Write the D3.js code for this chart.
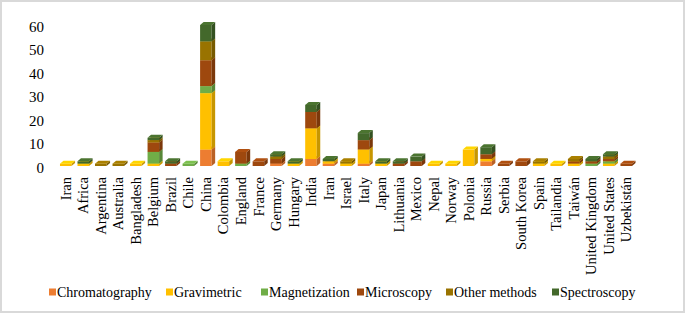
<!DOCTYPE html>
<html><head><meta charset="utf-8">
<script src="https://cdn.jsdelivr.net/npm/d3@7"></script>
<style>body{margin:0;background:#fff}svg{display:block}</style>
</head><body>
<svg id="c" width="685" height="313"></svg>
<script>
const categories = ["Iran","Africa","Argentina","Australia","Bangladesh","Belgium","Brazil","Chile","China","Colombia","England","France","Germany","Hungary","India","Iran","Israel","Italy","Japan","Lithuania","Mexico","Nepal","Norway","Polonia","Russia","Serbia","South Korea","Spain","Tailandia","Taiwán","United Kingdom","United States","Uzbekistán"];
const seriesNames = ["Chromatography","Gravimetric","Magnetization","Microscopy","Other methods","Spectroscopy"];
const seriesColors = ["#ED7D31","#FFC000","#70AD47","#9E480E","#997300","#43682B"];
const chromatography = [0,0,0,0,0,0,0,0,7,0,0,0,1,0,3,1,0,1,0,0,0,0,0,0,2,0,0,0,0,0,0,0,0];
const gravimetric    = [1,1,0,0,1,1,0,0,24,2,0,0,0,1,13,1,1,6,1,0,0,1,1,7,1,0,0,1,1,1,0,1,0];
const magnetization  = [0,0,0,0,0,5,0,1,3,0,1,0,0,0,0,0,0,0,0,0,0,0,0,0,0,0,0,0,0,0,1,1,0];
const microscopy     = [0,0,0,0,0,4,1,0,11,0,5,2,2,0,7,0,0,4,0,1,2,0,0,0,2,1,2,0,0,1,1,1,1];
const otherMethods   = [0,0,1,1,0,1,0,0,8,0,0,0,1,0,0,0,1,0,0,0,0,0,0,0,0,0,0,1,0,1,0,1,0];
const spectroscopy   = [0,1,0,0,0,1,1,0,7,0,0,0,1,1,3,1,0,3,1,1,2,0,0,0,3,0,0,0,0,0,1,1,0];
const yTicks = [0,10,20,30,40,50,60];

const seriesValues = [chromatography,gravimetric,magnetization,microscopy,otherMethods,spectroscopy];
const rows = categories.map((c,i)=>{const r={idx:i,name:c};seriesNames.forEach((s,k)=>r[s]=seriesValues[k][i]);return r;});

const svg = d3.select("#c");
svg.append("rect").attr("x",1).attr("y",1).attr("width",683).attr("height",311)
  .attr("fill","#fff").attr("stroke","#d9d9d9").attr("stroke-width",2);

const x = d3.scaleBand().domain(d3.range(categories.length)).range([57,635]).paddingInner(0.34).paddingOuter(0.17);
const y = d3.scaleLinear().domain([0,60]).range([166,25]);
const color = d3.scaleOrdinal().domain(seriesNames).range(seriesColors);

const stack = d3.stack().keys(seriesNames);
const layers = stack(rows);
const dx = 3.5, dy = 3;

const g = svg.append("g");
rows.forEach((r,i)=>{
  layers.forEach(layer=>{
    const d = layer[i];
    if (d[1]-d[0] <= 0) return;
    const c = d3.color(color(layer.key));
    const x0 = x(i), w = x.bandwidth(), yt = y(d[1]), yb = y(d[0]);
    g.append("rect").attr("x",x0).attr("y",yt).attr("width",w).attr("height",yb-yt).attr("fill",c.formatHex());
    g.append("path").attr("d",`M${x0+w},${yt}L${x0+w+dx},${yt-dy}L${x0+w+dx},${yb-dy}L${x0+w},${yb}Z`)
      .attr("fill",c.darker(0.7).formatHex());
    g.append("path").attr("d",`M${x0},${yt}L${x0+dx},${yt-dy}L${x0+w+dx},${yt-dy}L${x0+w},${yt}Z`)
      .attr("fill",c.brighter(0.3).formatHex());
  });
});

const yAxis = d3.axisLeft(y).tickValues(yTicks).tickSize(0).tickPadding(3);
const ya = svg.append("g").attr("transform","translate(47,1.5)").call(yAxis);
ya.select(".domain").remove();
ya.selectAll("text").attr("font-family","'Liberation Serif', serif").attr("font-size",15).attr("fill","#000");

const xl = svg.append("g");
rows.forEach((r,i)=>{
  const cx = x(i)+x.bandwidth()/2;
  xl.append("text").attr("transform",`translate(${cx},177) rotate(-90)`)
    .attr("text-anchor","end").attr("dy","0.35em")
    .attr("font-family","'Liberation Serif', serif").attr("font-size",14.5).attr("fill","#000")
    .text(r.name);
});

const legX = [49,166,261,357,446,552];
const lg = svg.append("g");
seriesNames.forEach((s,k)=>{
  lg.append("rect").attr("x",legX[k]).attr("y",288.5).attr("width",7).attr("height",7).attr("fill",seriesColors[k]);
  lg.append("text").attr("x",legX[k]+8).attr("y",292).attr("dy","0.35em")
    .attr("font-family","'Liberation Serif', serif").attr("font-size",14).attr("fill","#000").text(s);
});
</script>
</body></html>
